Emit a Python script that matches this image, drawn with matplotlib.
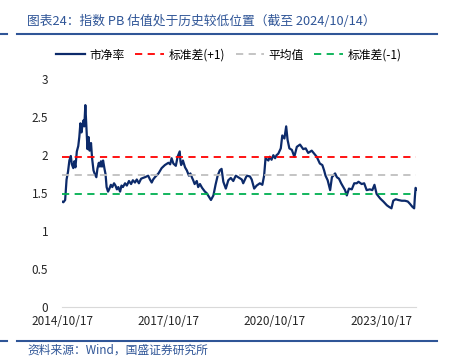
import matplotlib
matplotlib.use("Agg")
import matplotlib.pyplot as plt
import matplotlib.dates as mdates
import pandas as pd
import numpy as np

plt.rcParams['font.family'] = ['Noto Sans CJK SC', 'DejaVu Sans']

# decimal years
years = [2014.79, 2014.83, 2014.88, 2014.92, 2014.96, 2015.00, 2015.04, 2015.07, 2015.11, 2015.14,
         2015.17, 2015.21, 2015.25, 2015.28, 2015.31, 2015.34, 2015.37, 2015.40, 2015.42, 2015.45,
         2015.48, 2015.51, 2015.54, 2015.57, 2015.61, 2015.64, 2015.68, 2015.71, 2015.76, 2015.79,
         2015.83, 2015.86, 2015.89, 2015.92, 2015.95, 2015.99, 2016.02, 2016.05, 2016.09, 2016.13,
         2016.17, 2016.21, 2016.26, 2016.30, 2016.34, 2016.38, 2016.43, 2016.47, 2016.51, 2016.57,
         2016.62, 2016.68, 2016.74, 2016.79, 2016.85, 2016.90, 2016.96, 2017.02, 2017.07, 2017.13,
         2017.22, 2017.27, 2017.32, 2017.36, 2017.41, 2017.51, 2017.60, 2017.69, 2017.79, 2017.84,
         2017.88, 2017.93, 2018.00, 2018.05, 2018.11, 2018.13, 2018.15, 2018.20, 2018.26, 2018.31,
         2018.37, 2018.41, 2018.46, 2018.49, 2018.53, 2018.59, 2018.63, 2018.68, 2018.74, 2018.82,
         2018.87, 2018.91, 2018.99, 2019.06, 2019.12, 2019.18, 2019.24, 2019.29, 2019.34, 2019.41,
         2019.48, 2019.55, 2019.62, 2019.69, 2019.76, 2019.86, 2019.90, 2020.00, 2020.09, 2020.14,
         2020.21, 2020.28, 2020.37, 2020.44, 2020.49, 2020.53, 2020.61, 2020.65, 2020.70, 2020.75,
         2020.80, 2020.84, 2020.89, 2020.96, 2021.00, 2021.06, 2021.11, 2021.15, 2021.20, 2021.27,
         2021.34, 2021.41, 2021.50, 2021.59, 2021.66, 2021.73, 2021.83, 2021.90, 2021.97, 2022.01,
         2022.06, 2022.13, 2022.18, 2022.22, 2022.28, 2022.35, 2022.40, 2022.49, 2022.54, 2022.60,
         2022.66, 2022.72, 2022.77, 2022.82, 2022.88, 2022.96, 2023.03, 2023.10, 2023.15, 2023.24,
         2023.31, 2023.38, 2023.47, 2023.54, 2023.60, 2023.66, 2023.76, 2023.85, 2023.95, 2024.01,
         2024.08, 2024.13, 2024.20, 2024.27, 2024.37, 2024.46, 2024.54, 2024.60, 2024.67, 2024.72,
         2024.74, 2024.76, 2024.79]
pb = [1.39, 1.38, 1.41, 1.68, 1.78, 1.93, 1.99, 1.88, 1.83, 1.92,
      1.84, 2.05, 2.12, 2.24, 2.42, 2.30, 2.40, 2.46, 2.38, 2.66,
      2.38, 2.08, 2.24, 2.06, 2.16, 1.96, 1.80, 1.76, 1.71, 1.82,
      1.90, 1.85, 1.92, 1.85, 1.93, 1.82, 1.75, 1.58, 1.52, 1.56,
      1.61, 1.58, 1.63, 1.60, 1.55, 1.58, 1.52, 1.60, 1.58, 1.63,
      1.60, 1.66, 1.62, 1.67, 1.64, 1.68, 1.63, 1.69, 1.70, 1.71,
      1.73, 1.68, 1.64, 1.68, 1.71, 1.76, 1.83, 1.87, 1.90, 1.88,
      1.96, 1.89, 1.86, 1.98, 2.05, 1.92, 1.87, 1.93, 1.84, 1.80,
      1.73, 1.76, 1.70, 1.67, 1.62, 1.66, 1.58, 1.62, 1.57, 1.52,
      1.50, 1.47, 1.41, 1.47, 1.61, 1.73, 1.80, 1.82, 1.65, 1.56,
      1.67, 1.70, 1.66, 1.73, 1.71, 1.68, 1.63, 1.73, 1.72, 1.68,
      1.56, 1.60, 1.63, 1.61, 1.73, 1.96, 1.93, 1.98, 1.94, 2.00,
      1.96, 2.00, 2.02, 2.09, 2.26, 2.22, 2.38, 2.20, 2.09, 2.07,
      1.98, 2.11, 2.14, 2.08, 2.09, 2.03, 2.06, 2.02, 1.98, 1.94,
      1.89, 1.87, 1.80, 1.73, 1.67, 1.54, 1.71, 1.76, 1.71, 1.69,
      1.63, 1.58, 1.54, 1.47, 1.56, 1.55, 1.63, 1.63, 1.65, 1.62,
      1.63, 1.54, 1.55, 1.54, 1.61, 1.49, 1.43, 1.39, 1.34, 1.32,
      1.30, 1.40, 1.42, 1.41, 1.40, 1.40, 1.39, 1.36, 1.32, 1.30,
      1.45, 1.57, 1.55]

std_up = 1.98
mean_pb = 1.735
std_dn = 1.49

start = pd.Timestamp('2014-10-17')
end = pd.Timestamp('2024-10-14')
dates = [pd.Timestamp(int(y), 1, 1) + pd.Timedelta(days=(y - int(y)) * 365.25) for y in years]
tick_dates = [pd.Timestamp('2014-10-17'), pd.Timestamp('2017-10-17'),
              pd.Timestamp('2020-10-17'), pd.Timestamp('2023-10-17')]
tick_labels = ['2014/10/17', '2017/10/17', '2020/10/17', '2023/10/17']

navy = '#0C2A6A'
blue = '#2F5597'

fig = plt.figure(figsize=(4.5, 3.61), dpi=100)
ax = fig.add_axes([62/450, 1-307/361, (416.5-62)/450, (307-79.3)/361])

ax.plot(dates, pb, color=navy, lw=1.6, label='市净率')
ax.plot([start, end], [std_up, std_up], color='#FF0000', lw=1.3, ls=(0, (4, 3)), label='标准差(+1)')
ax.plot([start, end], [mean_pb, mean_pb], color='#BFBFBF', lw=1.3, ls=(0, (4, 3)), label='平均值')
ax.plot([start, end], [std_dn, std_dn], color='#00B050', lw=1.3, ls=(0, (4, 3)), label='标准差(-1)')

ax.set_xlim(start, end)
ax.set_ylim(0, 3)
ax.set_yticks([0, 0.5, 1, 1.5, 2, 2.5, 3])
ax.set_yticklabels(['0', '0.5', '1', '1.5', '2', '2.5', '3'])
ax.set_xticks(tick_dates)
ax.set_xticklabels(tick_labels)
ax.tick_params(length=0, labelsize=8.5, colors='#262626')
ax.tick_params(axis='y', pad=10)
ax.tick_params(axis='x', pad=6)
for s in ['top', 'right', 'left']:
    ax.spines[s].set_visible(False)
ax.spines['bottom'].set_color('#D9D9D9')

ax.legend(loc='center', bbox_to_anchor=(229/450, 1-55/361), bbox_transform=fig.transFigure,
          ncol=4, frameon=False, fontsize=8.5, handlelength=2.4, columnspacing=0.9, handletextpad=0.4)

fig.text(27/450, 1-21/361, '图表24：指数 PB 估值处于历史较低位置（截至 2024/10/14）',
         color=blue, fontsize=9.2, style='italic', va='center')
fig.text(27/450, 1-350/361, '资料来源：Wind，国盛证券研究所',
         color=blue, fontsize=8.5, style='italic', va='center')
for yy in [1-34/361, 1-341/361]:
    fig.add_artist(plt.Line2D([0, 7/450], [yy, yy], color=blue, lw=1.5))
    fig.add_artist(plt.Line2D([17/450, 437/450], [yy, yy], color=blue, lw=1.5))

fig.savefig('out.png', dpi=100)
